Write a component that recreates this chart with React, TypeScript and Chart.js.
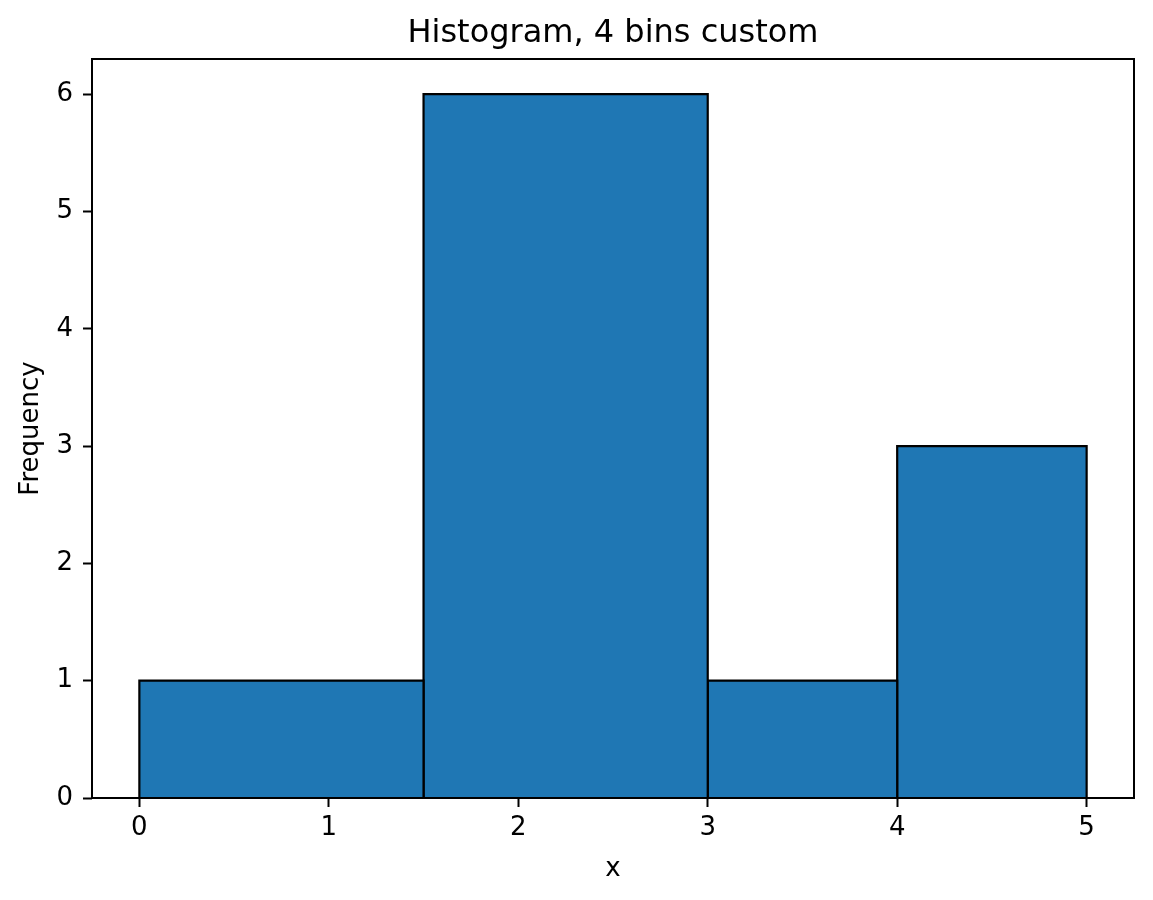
import { useEffect, useRef } from 'react';
import { Chart, registerables } from 'chart.js';

Chart.register(...registerables);

// histogram bins (edges) and counts per bin
const BIN_EDGES = [0, 1.5, 3, 4, 5];
const COUNTS = [1, 6, 1, 3];

const X_TICKS = [0, 1, 2, 3, 4, 5];
const Y_TICKS = [0, 1, 2, 3, 4, 5, 6];

const FONT = 'DejaVu Sans';
const BAR = '#1f77b4';

// frame around the plot area, like matplotlib's spines
const framePlugin = {
  id: 'frame',
  afterDatasetsDraw(chart: Chart) {
    const { ctx, chartArea: a } = chart;
    ctx.save();
    ctx.strokeStyle = '#000';
    ctx.lineWidth = 2;
    ctx.strokeRect(a.left, a.top, a.right - a.left, a.bottom - a.top);
    ctx.restore();
  },
};

export default function App() {
  const canvasRef = useRef<HTMLCanvasElement>(null);
  const chartRef = useRef<Chart | null>(null);

  useEffect(() => {
    document.body.style.margin = '0';
    if (!canvasRef.current) return;
    Chart.getChart(canvasRef.current)?.destroy();
    chartRef.current?.destroy();

    const datasets = COUNTS.map((c, i) => ({
      label: `bin ${i}`,
      data: [
        { x: BIN_EDGES[i], y: 0 },
        { x: BIN_EDGES[i], y: c },
        { x: BIN_EDGES[i + 1], y: c },
        { x: BIN_EDGES[i + 1], y: 0 },
      ],
      borderColor: '#000',
      borderWidth: 2.2,
      backgroundColor: BAR,
      fill: 'origin' as const,
      pointRadius: 0,
      tension: 0,
    }));

    chartRef.current = new Chart(canvasRef.current, {
      type: 'line',
      data: { datasets },
      plugins: [framePlugin],
      options: {
        animation: false,
        responsive: true,
        maintainAspectRatio: false,
        layout: { padding: { left: 0, right: 19, top: 0, bottom: 0 } },
        plugins: {
          legend: { display: false },
          tooltip: { enabled: false },
          title: {
            display: true,
            fullSize: false,
            text: 'Histogram, 4 bins custom',
            color: '#000',
            font: { family: FONT, size: 32, weight: 'normal' },
            padding: { top: 14, bottom: 6.6 },
          },
        },
        scales: {
          x: {
            type: 'linear',
            min: -0.25,
            max: 5.25,
            afterFit: (s: any) => { s.height = 102; },
            afterBuildTicks: (s: any) => { s.ticks = X_TICKS.map(v => ({ value: v })); },
            ticks: { stepSize: 1, includeBounds: false, color: '#000', padding: 6, font: { family: FONT, size: 26 } },
            grid: { drawOnChartArea: false, drawTicks: true, tickLength: 9, tickWidth: 2, tickColor: '#000' },
            border: { display: false },
            title: {
              display: true, text: 'x', color: '#000',
              font: { family: FONT, size: 26 },
              padding: { top: 0, bottom: 15 },
            },
          },
          y: {
            type: 'linear',
            min: 0,
            max: 6.3,
            afterFit: (s: any) => { s.width = 92; },
            afterBuildTicks: (s: any) => { s.ticks = Y_TICKS.map(v => ({ value: v })); },
            ticks: { stepSize: 1, includeBounds: false, color: '#000', padding: 10, font: { family: FONT, size: 26 } },
            grid: { drawOnChartArea: false, drawTicks: true, tickLength: 9, tickWidth: 2, tickColor: '#000' },
            border: { display: false },
            title: {
              display: true, text: 'Frequency', color: '#000',
              font: { family: FONT, size: 26 },
              padding: { top: 16, bottom: 0 },
            },
          },
        },
      },
    });

    return () => { chartRef.current?.destroy(); chartRef.current = null; };
  }, []);

  return (
    <div style={{ width: 1153, height: 900, position: 'relative', background: '#fff' }}>
      <canvas ref={canvasRef} />
    </div>
  );
}
